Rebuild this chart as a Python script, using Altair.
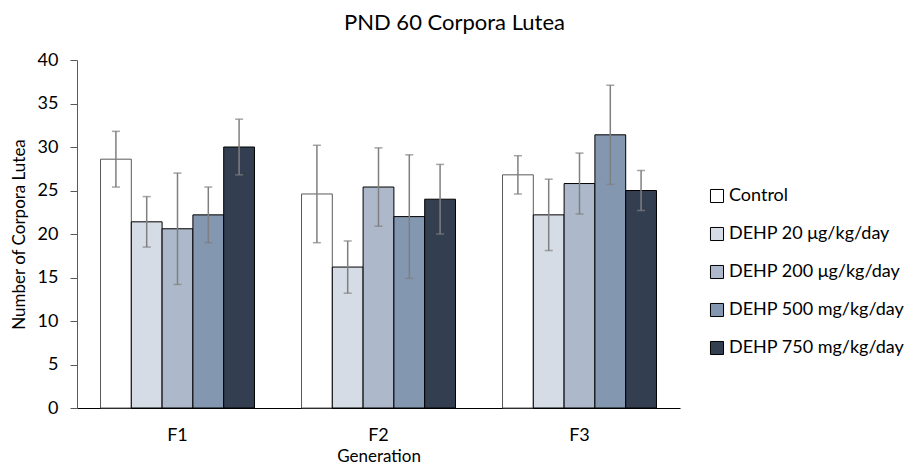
import altair as alt
import pandas as pd

generations = ["F1", "F2", "F3"]
treatments = ["Control", "DEHP 20 μg/kg/day", "DEHP 200 μg/kg/day",
              "DEHP 500 mg/kg/day", "DEHP 750 mg/kg/day"]
colors = ["#FFFFFF", "#D6DCE5", "#ADB9CA", "#8497B0", "#333F50"]

means = {
    "Control":            [28.6, 24.6, 26.8],
    "DEHP 20 μg/kg/day":  [21.4, 16.2, 22.2],
    "DEHP 200 μg/kg/day": [20.6, 25.4, 25.8],
    "DEHP 500 mg/kg/day": [22.2, 22.0, 31.4],
    "DEHP 750 mg/kg/day": [30.0, 24.0, 25.0],
}
errors = {
    "Control":            [3.2, 5.6, 2.2],
    "DEHP 20 μg/kg/day":  [2.9, 3.0, 4.1],
    "DEHP 200 μg/kg/day": [6.4, 4.5, 3.5],
    "DEHP 500 mg/kg/day": [3.2, 7.1, 5.7],
    "DEHP 750 mg/kg/day": [3.2, 4.0, 2.3],
}

rows = []
for t in treatments:
    for i, g in enumerate(generations):
        m, e = means[t][i], errors[t][i]
        rows.append({"Generation": g, "Treatment": t, "mean": m,
                     "lo": m - e, "hi": m + e})
df = pd.DataFrame(rows)

FONT = "Lato"

x_enc = alt.X("Generation:N", sort=generations,
              scale=alt.Scale(paddingInner=0.234, paddingOuter=0.117),
              axis=alt.Axis(title="Generation", labelAngle=0, ticks=False,
                            labelPadding=18, titlePadding=4, titleFontSize=17,
                            domainColor="#000000"))
xo = alt.XOffset("Treatment:N", sort=treatments,
                 scale=alt.Scale(paddingInner=0, paddingOuter=0))
y_scale = alt.Scale(domain=[0, 40])

bars = alt.Chart(df).mark_bar(strokeWidth=1).encode(
    x=x_enc,
    xOffset=xo,
    y=alt.Y("mean:Q", scale=y_scale,
            axis=alt.Axis(title="Number of Corpora Lutea", values=list(range(0, 41, 5)),
                          grid=False, tickSize=7, tickColor="#595959", titleFontSize=17,
                          domainColor="#595959", labelPadding=12, titlePadding=9)),
    fill=alt.Fill("Treatment:N", sort=treatments,
                  scale=alt.Scale(domain=treatments, range=colors),
                  legend=alt.Legend(title=None, orient="none", legendX=631, legendY=127,
                                    symbolType="square", symbolSize=170,
                                    symbolStrokeColor="#000000", symbolStrokeWidth=1,
                                    labelFontSize=18, labelOffset=3, rowPadding=20,
                                    labelLimit=0,
                                    labelFont=FONT, labelColor="#000000")),
    stroke=alt.condition(alt.datum.Treatment == "Control",
                         alt.value("#595959"), alt.value("#000000")),
)

err = alt.Chart(df).mark_rule(color="#7F7F7F", strokeWidth=1.5).encode(
    x=alt.X("Generation:N", sort=generations),
    xOffset=xo,
    y=alt.Y("lo:Q", scale=y_scale),
    y2="hi:Q",
)
cap_hi = alt.Chart(df).mark_tick(color="#7F7F7F", thickness=1.5, size=8,
                                 orient="horizontal").encode(
    x=alt.X("Generation:N", sort=generations),
    xOffset=xo,
    y=alt.Y("hi:Q", scale=y_scale),
)
cap_lo = alt.Chart(df).mark_tick(color="#7F7F7F", thickness=1.5, size=8,
                                 orient="horizontal").encode(
    x=alt.X("Generation:N", sort=generations),
    xOffset=xo,
    y=alt.Y("lo:Q", scale=y_scale),
)

chart = alt.layer(bars, err, cap_hi, cap_lo).properties(
    width=603, height=348,
    title=alt.Title("PND 60 Corpora Lutea", fontSize=22, font=FONT,
                    fontWeight="normal", color="#000000", offset=16, dx=76),
    autosize=alt.AutoSizeParams(type="none"),
    padding={"left": 69, "top": 52, "right": 224, "bottom": 59},
).configure_view(stroke=None).configure_axis(
    labelFont=FONT, titleFont=FONT, labelFontSize=18, titleFontSize=18,
    labelColor="#000000", titleColor="#000000", titleFontWeight="normal",
)

chart.save("out.html", embed_options={"renderer": "svg", "actions": False})
